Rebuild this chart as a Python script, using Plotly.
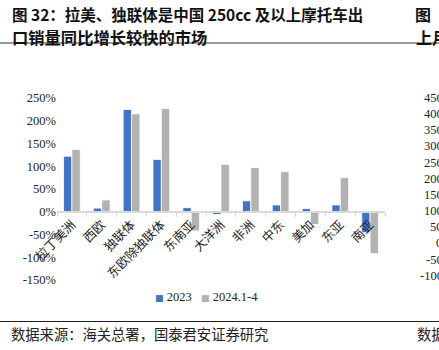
import plotly.graph_objects as go

categories = ["拉丁美洲", "西欧", "独联体", "东欧除独联体", "东南亚", "大洋洲", "非洲", "中东", "美加", "东亚", "南亚"]
v2023 = [122, 8, 225, 115, 9, -6, 24, 15, 7, 15, -46]
v2024 = [137, 26, 215, 227, -42, 104, 97, 88, -28, 75, -92]
yticks = [250, 200, 150, 100, 50, 0, -50, -100, -150]
right_ticks = [450, 400, 350, 300, 250, 200, 150, 100, 50, 0, -50, -100]
series_names = ["2023", "2024.1-4"]
series_colors = ["#4472C4", "#B2B2B2"]

W, H = 439, 350
L, R, T, B = 57, 385, 98, 280.4

def px(x):
    return (x - L) / (R - L)

def py(y):
    return (B - y) / (B - T)

SERIF = "Liberation Serif, Times New Roman, serif"
CJK = "Noto Sans CJK SC, sans-serif"

fig = go.Figure()
for name, vals, col in zip(series_names, [v2023, v2024], series_colors):
    fig.add_trace(go.Bar(x=categories, y=vals, name=name, showlegend=False,
                         marker=dict(color=col, line=dict(color="white", width=0.8))))

annos = []
annos.append(dict(x=px(10), y=py(14), xref="paper", yref="paper", xanchor="left", yanchor="middle",
                  text="<b>图 32：拉美、独联体是中国 250cc 及以上摩托车出</b>", showarrow=False,
                  font=dict(family=CJK, size=15.5, color="#111")))
annos.append(dict(x=px(10), y=py(37), xref="paper", yref="paper", xanchor="left", yanchor="middle",
                  text="<b>口销量同比增长较快的市场</b>", showarrow=False,
                  font=dict(family=CJK, size=16.3, color="#111")))
annos.append(dict(x=px(413), y=py(14), xref="paper", yref="paper", xanchor="left", yanchor="middle",
                  text="<b>图</b>", showarrow=False, font=dict(family=CJK, size=16, color="#111")))
annos.append(dict(x=px(414), y=py(37), xref="paper", yref="paper", xanchor="left", yanchor="middle",
                  text="<b>上月</b>", showarrow=False, font=dict(family=CJK, size=16, color="#111")))
annos.append(dict(x=px(9), y=py(334), xref="paper", yref="paper", xanchor="left", yanchor="middle",
                  text="数据来源：海关总署，国泰君安证券研究", showarrow=False,
                  font=dict(family=CJK, size=14.3, color="#222")))
annos.append(dict(x=px(415), y=py(334), xref="paper", yref="paper", xanchor="left", yanchor="middle",
                  text="数据", showarrow=False, font=dict(family=CJK, size=14.3, color="#222")))
for i, t in enumerate(right_ticks):
    yy = 98 + i * 16.2
    annos.append(dict(x=px(455), y=py(yy), xref="paper", yref="paper", xanchor="right", yanchor="middle",
                      text=f"{t}%", showarrow=False, font=dict(family=SERIF, size=12.5, color="#222")))

# legend drawn as text
leg_text = "   ".join(
    f"<span style='color:{c};font-family:DejaVu Sans;font-size:9px'>■</span> {n}"
    for n, c in zip(series_names, series_colors))
annos.append(dict(x=px(206), y=py(297), xref="paper", yref="paper", xanchor="center", yanchor="middle",
                  text=leg_text, showarrow=False, font=dict(family=SERIF, size=12.5, color="#222")))

shapes = [
    dict(type="line", xref="paper", yref="paper", x0=px(0), x1=px(W), y0=py(43), y1=py(43),
         line=dict(color="#777", width=1.5)),
    dict(type="line", xref="paper", yref="paper", x0=px(0), x1=px(W), y0=py(322), y1=py(322),
         line=dict(color="#222", width=1.2)),
]

fig.update_layout(
    width=W, height=H,
    margin=dict(l=L, r=W - R, t=T, b=H - B),
    paper_bgcolor="white", plot_bgcolor="white",
    barmode="group", bargap=0.44, bargroupgap=0,
    showlegend=False,
    xaxis=dict(tickangle=-45, tickfont=dict(family=CJK, size=12.5, color="#222"),
               anchor="free", position=py(212),
               showline=True, linecolor="#d9d9d9", linewidth=1.5,
               ticks="outside", tickson="boundaries", ticklen=4,
               tickcolor="#d9d9d9", showgrid=False, zeroline=False, automargin=False),
    yaxis=dict(range=[-150, 250], tickvals=yticks, ticktext=[f"{t}%" for t in yticks],
               tickfont=dict(family=SERIF, size=12.5, color="#222"), showgrid=False,
               zeroline=False, showline=False,
               automargin=False, ticks=""),
    annotations=annos, shapes=shapes,
)

fig.write_html("out.html")
